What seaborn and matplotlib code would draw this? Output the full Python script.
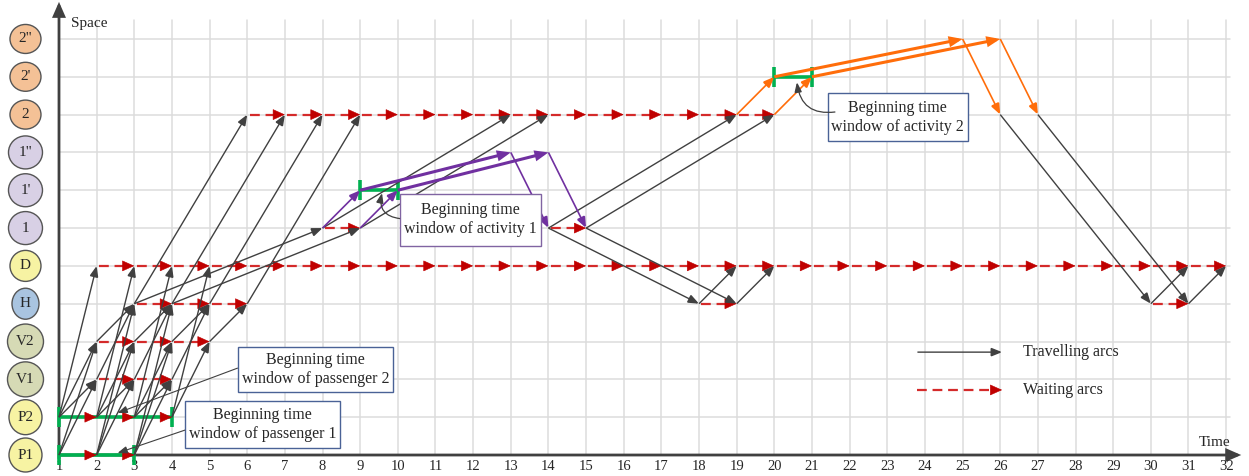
import numpy as np
import pandas as pd
import matplotlib
matplotlib.use("Agg")
import matplotlib.pyplot as plt
from matplotlib.patches import Ellipse, FancyArrowPatch, Rectangle
import seaborn as sns

# ---- network definition -------------------------------------------------
nodes = ["P1", "P2", "V1", "V2", "H", "D", "1", "1'", '1"', "2", "2'", '2"']
node_colors = ["#F7F3A3", "#F7F3A3", "#D6DAB5", "#D6DAB5", "#A9C4E0", "#F7F3A3",
               "#D8D0E5", "#D8D0E5", "#D8D0E5", "#F4C196", "#F4C196", "#F4C196"]
node_w_px = [33, 33, 36, 36, 27, 31, 34, 34, 34, 31, 31, 31]
node_h_px = [34, 35, 35, 35, 31, 31, 33, 33, 33, 29, 29, 29]
times = list(range(1, 33))

# waiting arcs: (node, first time, last time)
waiting = [("P1", 1, 3), ("P2", 1, 4), ("V1", 2, 4), ("V2", 2, 5), ("H", 3, 6),
           ("D", 2, 32), ("1", 8, 9), ("2", 6, 20), ("1", 14, 15),
           ("H", 18, 19), ("H", 30, 31)]

# travelling arcs: (time, node) -> (time, node)
travel = [
    (1, "P1", 2, "V1"), (2, "P1", 3, "V1"), (3, "P1", 4, "V1"),
    (1, "P1", 2, "V2"), (2, "P1", 3, "V2"), (3, "P1", 4, "V2"),
    (2, "P1", 3, "H"), (3, "P1", 4, "H"),
    (1, "P2", 2, "V1"), (2, "P2", 3, "V1"), (3, "P2", 4, "V1"),
    (1, "P2", 2, "V2"), (2, "P2", 3, "V2"), (3, "P2", 4, "V2"), (4, "P2", 5, "V2"),
    (1, "P2", 2, "D"), (2, "P2", 3, "D"), (3, "P2", 4, "D"), (4, "P2", 5, "D"),
    (2, "V1", 3, "H"), (3, "V1", 4, "H"), (4, "V1", 5, "H"),
    (2, "V2", 3, "H"), (3, "V2", 4, "H"), (4, "V2", 5, "H"), (5, "V2", 6, "H"),
    (3, "H", 6, "2"), (4, "H", 7, "2"), (5, "H", 8, "2"), (6, "H", 9, "2"),
    (3, "H", 8, "1"), (4, "H", 9, "1"),
    (8, "1", 13, "2"), (9, "1", 14, "2"),
    (14, "1", 19, "2"), (15, "1", 20, "2"),
    (14, "1", 18, "H"), (15, "1", 19, "H"),
    (18, "H", 19, "D"), (19, "H", 20, "D"),
    (26, "2", 30, "H"), (27, "2", 31, "H"),
    (30, "H", 31, "D"), (31, "H", 32, "D"),
]

# activity arcs: thin entry/exit arcs and thick service arcs
act1_thin = [(8, "1", 9, "1'"), (9, "1", 10, "1'"), (13, '1"', 14, "1"), (14, '1"', 15, "1")]
act1_thick = [(9, "1'", 13, '1"'), (10, "1'", 14, '1"')]
act2_thin = [(19, "2", 20, "2'"), (20, "2", 21, "2'"), (25, '2"', 26, "2"), (26, '2"', 27, "2")]
act2_thick = [(20, "2'", 25, '2"'), (21, "2'", 26, '2"')]

# time windows: (node, start, end)
windows = [("P1", 1, 3), ("P2", 1, 4), ("1'", 9, 10), ("2'", 20, 21)]

# ---- style --------------------------------------------------------------
sns.set_theme(style="white")
plt.rcParams["font.family"] = ["Liberation Serif", "DejaVu Serif"]

GREY = "#404040"
RED = "#C00000"
RED_DASH = "#D42A2A"
PURPLE = "#7030A0"
ORANGE = "#FF6D0A"
GREEN = "#00B050"
GRID = "#DCDCDC"

lvl = {n: i for i, n in enumerate(nodes)}
PX_X, PX_Y = 37.65, 37.82

fig = plt.figure(figsize=(12.49, 4.76), dpi=100)
ax = fig.add_axes([0, 0, 1, 1])


def arrow(p0, p1, color, lw, hl=0.65, hw=0.26, z=4, style="-|>", conn=None):
    kw = dict(arrowstyle=f"{style},head_length={hl},head_width={hw}",
              mutation_scale=10, color=color, lw=lw, shrinkA=0, shrinkB=0,
              zorder=z, joinstyle="miter", capstyle="butt")
    if conn:
        kw["connectionstyle"] = conn
    ax.add_patch(FancyArrowPatch(p0, p1, **kw))


# grid
for t in times[1:]:
    ax.plot([t, t], [0, 11.5], color=GRID, lw=1.1, zorder=0)
for k in range(1, len(nodes)):
    ax.plot([1, 32.1], [k, k], color=GRID, lw=1.1, zorder=0)

# axes with arrows
arrow((1, -0.1), (1, 11.98), GREY, 2.0, hl=0.8, hw=0.35, z=3)
arrow((1, 0), (32.4, 0), GREY, 2.0, hl=0.8, hw=0.35, z=3)

# node badges
for i, n in enumerate(nodes):
    ax.add_patch(Ellipse((0.11, i), node_w_px[i] / PX_X, node_h_px[i] / PX_Y,
                         facecolor=node_colors[i], edgecolor="#555555", lw=1.0, zorder=3))
    ax.text(0.11, i, n, ha="center", va="center", fontsize=11, zorder=4)

# time tick labels
for t in times:
    ax.text(t, -0.31, str(t), ha="center", va="center", fontsize=10.5)
ax.text(32.1, 0.33, "Time", ha="right", va="center", fontsize=11)
ax.text(1.32, 11.4, "Space", ha="left", va="center", fontsize=11)

# waiting arcs: dashed segments through seaborn, arrow heads at each node
rows = []
seg = 0
for n, a, b in waiting:
    for t in range(a, b):
        rows.append({"seg": seg, "t": t + 0.06, "level": lvl[n]})
        rows.append({"seg": seg, "t": t + 1 - 0.2, "level": lvl[n]})
        seg += 1
wait_df = pd.DataFrame(rows)
sns.lineplot(data=wait_df, x="t", y="level", units="seg", estimator=None, sort=False,
             color=RED_DASH, linewidth=1.6, linestyle=(0, (4.4, 2.6)), legend=False,
             ax=ax, zorder=2)

# time windows
for n, a, b in windows:
    y = lvl[n]
    ax.plot([a, b], [y, y], color=GREEN, lw=2.6, zorder=3, solid_capstyle="butt")
    for t in (a, b):
        ax.plot([t, t], [y - 0.27, y + 0.27], color=GREEN, lw=2.6, zorder=3,
                solid_capstyle="butt")

for n, a, b in waiting:
    for t in range(a, b):
        arrow((t + 1 - 0.3, lvl[n]), (t + 1, lvl[n]), RED, 0.4, hl=0.8, hw=0.36, z=4)

# travelling arcs
for t0, n0, t1, n1 in travel:
    arrow((t0, lvl[n0]), (t1, lvl[n1]), GREY, 1.0, z=4)

# activity arcs
for t0, n0, t1, n1 in act1_thin:
    arrow((t0, lvl[n0]), (t1, lvl[n1]), PURPLE, 1.2, z=5)
for t0, n0, t1, n1 in act1_thick:
    arrow((t0, lvl[n0]), (t1, lvl[n1]), PURPLE, 2.2, hl=0.6, hw=0.24, z=5)
for t0, n0, t1, n1 in act2_thin:
    arrow((t0, lvl[n0]), (t1, lvl[n1]), ORANGE, 1.2, z=5)
for t0, n0, t1, n1 in act2_thick:
    arrow((t0, lvl[n0]), (t1, lvl[n1]), ORANGE, 2.2, hl=0.6, hw=0.24, z=5)


# annotation boxes
def box(x0, x1, y0, y1, text, edge):
    ax.add_patch(Rectangle((x0, y0), x1 - x0, y1 - y0, facecolor="white",
                           edgecolor=edge, lw=1.0, zorder=6))
    ax.text((x0 + x1) / 2, (y0 + y1) / 2, text, ha="center", va="center",
            fontsize=11.5, linespacing=1.25, zorder=7)


box(5.75, 9.87, 1.67, 2.86, "Beginning time\nwindow of passenger 2", "#4A6296")
arrow((5.75, 2.30), (2.55, 1.11), GREY, 0.8, hl=0.6, hw=0.22, z=6)
box(4.35, 8.46, 0.19, 1.43, "Beginning time\nwindow of passenger 1", "#4A6296")
arrow((4.35, 0.66), (2.55, 0.05), GREY, 0.8, hl=0.6, hw=0.22, z=6)
box(10.06, 13.80, 5.53, 6.90, "Beginning time\nwindow of activity 1", "#8064A2")
arrow((10.06, 6.25), (9.58, 6.93), GREY, 0.9, hl=0.6, hw=0.22, z=6, conn="arc3,rad=-0.55")
box(21.42, 25.14, 8.30, 9.57, "Beginning time\nwindow of activity 2", "#4A6296")
arrow((21.62, 9.07), (20.60, 9.86), GREY, 0.9, hl=0.6, hw=0.22, z=6, conn="arc3,rad=-0.5")

# legend
arrow((23.8, 2.72), (26.05, 2.72), GREY, 1.0)
ax.text(26.6, 2.72, "Travelling arcs", ha="left", va="center", fontsize=11.5)
ax.plot([23.8, 25.8], [1.72, 1.72], color=RED_DASH, lw=1.6, linestyle=(0, (4.4, 2.6)), zorder=2)
arrow((25.75, 1.72), (26.05, 1.72), RED, 0.4, hl=0.8, hw=0.36)
ax.text(26.6, 1.72, "Waiting arcs", ha="left", va="center", fontsize=11.5)

ax.set_xlim(-0.567, 32.607)
ax.set_ylim(-0.555, 12.03)
ax.axis("off")
fig.savefig("out.png", dpi=100, facecolor="white")
